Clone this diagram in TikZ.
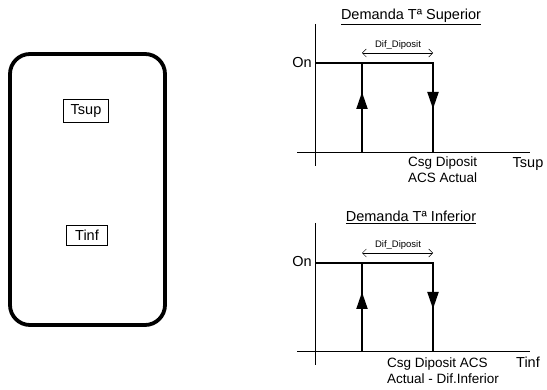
\documentclass[tikz,border=0pt]{standalone}
\usepackage{fontspec}
\setmainfont{Liberation Sans}
\usetikzlibrary{arrows.meta}
\tikzset{
  frame/.style={line width=3.8pt, rounded corners=20pt},
  sensor/.style={draw, line width=0.6pt, inner sep=0pt, font=\fontsize{14.5}{16}\selectfont},
  axis/.style={line width=1pt},
  curve/.style={line width=2pt},
  tip/.style={line width=2pt, -{Triangle[length=17pt,width=11pt]}},
  dim/.style={line width=0.5pt, {Straight Barb[length=4pt,width=8pt]}-{Straight Barb[length=4pt,width=8pt]}},
  lbl/.style={font=\fontsize{14.5}{15}\selectfont, inner sep=0pt},
  captext/.style={font=\fontsize{13.5}{15}\selectfont, inner sep=0pt, align=left, anchor=north west},
  small/.style={font=\fontsize{9.5}{10}\selectfont, inner sep=0pt},
  ttl/.style={font=\fontsize{14.5}{16}\selectfont, inner sep=0pt}
}
\begin{document}
\begin{tikzpicture}[x=1pt,y=-1pt]
\useasboundingbox (0,0) rectangle (547,390);
% left tank
\draw[frame] (10,54) rectangle (165,325);
\node[sensor, minimum width=45pt, minimum height=23pt] (tsup) at (86,111) {Tsup};
\node[sensor, minimum width=41pt, minimum height=20pt] (tinf) at (87,235) {Tinf};

% top chart
\coordinate (ya1) at (315,24);
\coordinate (yb1) at (315,166);
\coordinate (xa1) at (297,153);
\coordinate (xb1) at (530,153);
\draw[axis] (ya1) -- (yb1);
\draw[axis] (xa1) -- (xb1);
\coordinate (on1) at (315,63);
\coordinate (l1t) at (362,63);
\coordinate (l1b) at (362,153);
\coordinate (r1t) at (433,63);
\coordinate (r1b) at (433,153);
\draw[curve] (on1) -- (r1t) -- (r1b);
\draw[curve] (l1t) -- (l1b);
\draw[tip] (362,115) -- (362,92);
\draw[tip] (433,88) -- (433,109);
\draw[dim] (362,53) -- (433,53);
\node[small] (d1) at (398,45) {Dif\_Diposit};
\node[ttl] (t1) at (411,17) {\underline{Demanda Tª Superior}};
\node[lbl, anchor=east] (on1l) at (312,63) {On};
\node[captext] (c1) at (408,157) {Csg Diposit\\[1pt]ACS Actual};
\node[lbl] (ts) at (528,164) {Tsup};

% bottom chart
\coordinate (ya2) at (315,223);
\coordinate (yb2) at (315,365);
\coordinate (xa2) at (297,352);
\coordinate (xb2) at (530,352);
\draw[axis] (ya2) -- (yb2);
\draw[axis] (xa2) -- (xb2);
\coordinate (on2) at (315,263);
\coordinate (l2t) at (362,263);
\coordinate (l2b) at (362,352);
\coordinate (r2t) at (433,263);
\coordinate (r2b) at (433,352);
\draw[curve] (on2) -- (r2t) -- (r2b);
\draw[curve] (l2t) -- (l2b);
\draw[tip] (362,315) -- (362,292);
\draw[tip] (433,288) -- (433,309);
\draw[dim] (362,253) -- (433,253);
\node[small] (d2) at (398,245) {Dif\_Diposit};
\node[ttl] (t2) at (411,217) {\underline{Demanda Tª Inferior}};
\node[lbl, anchor=east] (on2l) at (312,262) {On};
\node[captext] (c2) at (387,358) {Csg Diposit ACS\\[1pt]Actual - Dif.Inferior};
\node[lbl] (ti) at (528,362) {Tinf};
\end{tikzpicture}
\end{document}
